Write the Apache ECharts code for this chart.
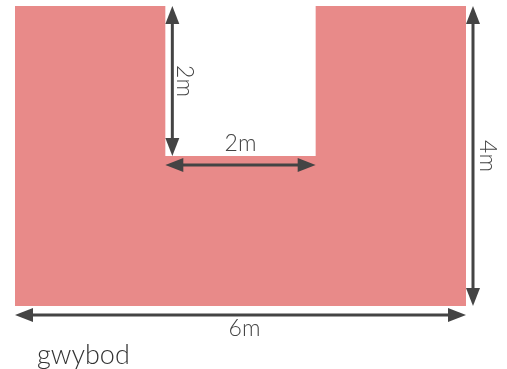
<!DOCTYPE html>
<html>
<head>
<meta charset="utf-8">
<script src="https://cdn.jsdelivr.net/npm/echarts@6/dist/echarts.min.js"></script>
<style>
  html, body { margin: 0; padding: 0; background: #fff; }
  #main { width: 507px; height: 369px; }
</style>
</head>
<body>
<div id="main"></div>
<script>
// U-shape outline, in metres
var shapeX = [0, 6, 6, 4, 4, 2, 2, 0]
var shapeY = [0, 0, 4, 4, 2, 2, 4, 4]

// dimension arrows: start / end in metres, and their labels
var dimFrom = [[2, 4], [2, 2], [6, 4], [0, 0]]
var dimTo = [[2, 2], [4, 2], [6, 0], [6, 0]]
var dimLabels = ['2m', '2m', '4m', '6m']

var caption = 'gwybod'

// pixel offsets for arrows and labels (styling only)
var lineShift = [[7, 0], [0, 9], [7, 0], [0, 9]]
var labelShift = [[12, 0], [0, -21], [14, 0], [4, 14]]

var chart = echarts.init(document.getElementById('main'))

function head(tip, dir, color) {
  // dir is unit vector pointing toward the tip
  var len = 18, hw = 7
  var bx = tip[0] - dir[0] * len, by = tip[1] - dir[1] * len
  return {
    type: 'polygon',
    shape: { points: [tip, [bx - dir[1] * hw, by + dir[0] * hw], [bx + dir[1] * hw, by - dir[0] * hw]] },
    style: { fill: color }
  }
}

chart.setOption({
  animation: false,
  grid: { left: 15, right: 41, top: 6, bottom: 63 },
  xAxis: { type: 'value', min: 0, max: 6, show: false },
  yAxis: { type: 'value', min: 0, max: 4, show: false },
  title: {
    text: caption,
    left: 32,
    top: 337,
    textStyle: { fontFamily: 'Lato', fontSize: 27, fontWeight: 300, color: '#333' }
  },
  series: [
    {
      type: 'custom',
      data: [0],
      renderItem: function(params, api) {
        var pts = shapeX.map(function(x, i) {
          return api.coord([x, shapeY[i]])
        })
        return { type: 'polygon', shape: { points: pts }, style: { fill: '#E88A89' } }
      }
    },
    {
      type: 'custom',
      data: dimLabels.map(function(l, i) { return i }),
      renderItem: function(params, api) {
        var i = params.dataIndex
        var col = '#444'
        var a = api.coord(dimFrom[i]), b = api.coord(dimTo[i])
        a = [a[0] + lineShift[i][0], a[1] + lineShift[i][1]]
        b = [b[0] + lineShift[i][0], b[1] + lineShift[i][1]]
        var dx = b[0] - a[0], dy = b[1] - a[1]
        var d = Math.sqrt(dx * dx + dy * dy)
        var u = [dx / d, dy / d]
        var vertical = Math.abs(u[1]) > 0.5
        var mid = [(a[0] + b[0]) / 2 + labelShift[i][0], (a[1] + b[1]) / 2 + labelShift[i][1]]
        return {
          type: 'group',
          children: [
            {
              type: 'line',
              shape: { x1: a[0] + u[0] * 12, y1: a[1] + u[1] * 12, x2: b[0] - u[0] * 12, y2: b[1] - u[1] * 12 },
              style: { stroke: col, lineWidth: 3 }
            },
            head(a, [-u[0], -u[1]], col),
            head(b, u, col),
            {
              type: 'text',
              x: mid[0],
              y: mid[1],
              rotation: vertical ? -Math.PI / 2 : 0,
              style: {
                text: dimLabels[i],
                fill: col,
                font: '300 23px Lato',
                align: 'center',
                verticalAlign: 'middle'
              }
            }
          ]
        }
      }
    }
  ]
})
</script>
</body>
</html>
